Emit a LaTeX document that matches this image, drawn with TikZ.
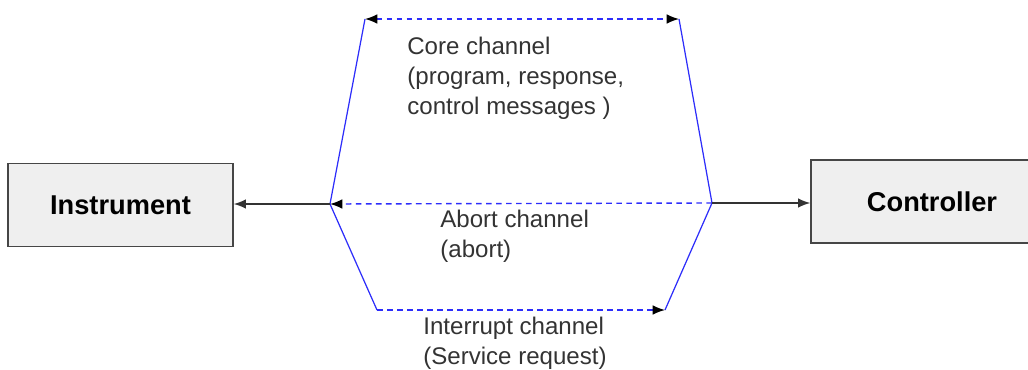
\documentclass[tikz,border=0pt]{standalone}
\usepackage{fontspec}
\setmainfont{Liberation Sans}
\usetikzlibrary{arrows.meta}
\definecolor{chanblue}{RGB}{45,45,250}
\definecolor{boxgray}{RGB}{239,239,239}
\definecolor{boxedge}{RGB}{70,70,70}
\begin{document}
\begin{tikzpicture}[
    x=0.02cm, y=-0.02cm,
    unit/.style={rectangle,draw=boxedge,fill=boxgray,line width=0.8pt,
      minimum height=1.67cm,font=\fontsize{15.5}{18}\selectfont\bfseries},
    lbl/.style={anchor=west,align=left,inner sep=0pt,
      font=\fontsize{13.7}{17.2}\selectfont,text=black!80},
    wire/.style={draw=chanblue,line width=0.7pt},
    chan/.style={draw=chanblue,line width=0.8pt,dash pattern=on 3.2pt off 2.5pt},
    link/.style={-{Latex[length=7pt,width=5.5pt]},line width=0.9pt,draw=black!80}
  ]
    \useasboundingbox (0,0) rectangle (1028,369);

    \node[unit,minimum width=4.5cm] (inst) at (120.5,205) {Instrument};
    \node[unit,minimum width=4.84cm,minimum height=1.66cm] (ctrl) at (932,201.5) {Controller};

    \coordinate (jl) at (330,204);
    \coordinate (jr) at (712,203);
    \coordinate (coreL) at (365,19);
    \coordinate (coreR) at (679,19);
    \coordinate (intL) at (377,310);
    \coordinate (intR) at (665,310);

    % channel outline
    \draw[wire] (coreL) -- (jl) -- (intL);
    \draw[wire] (coreR) -- (jr) -- (intR);

    % channels
    \draw[chan,{Latex[black,length=7pt,width=5.5pt]}-{Latex[black,length=7pt,width=5.5pt]}] (coreL) -- (coreR);
    \draw[chan,-{Latex[black,length=7pt,width=5.5pt]}] (jr) -- (jl);
    \draw[chan,-{Latex[black,length=7pt,width=5.5pt]}] (intL) -- (intR);

    \draw[link] (jl) -- (jl -| inst.east);
    \draw[link] (jr) -- (jr -| ctrl.west);

    \node[lbl] (corelbl) at (407,78) {Core channel\\(program, response,\\control messages )};
    \node[lbl] (abortlbl) at (440,236) {Abort channel\\(abort)};
    \node[lbl] (intlbl) at (423,343) {Interrupt channel\\(Service request)};
\end{tikzpicture}
\end{document}
